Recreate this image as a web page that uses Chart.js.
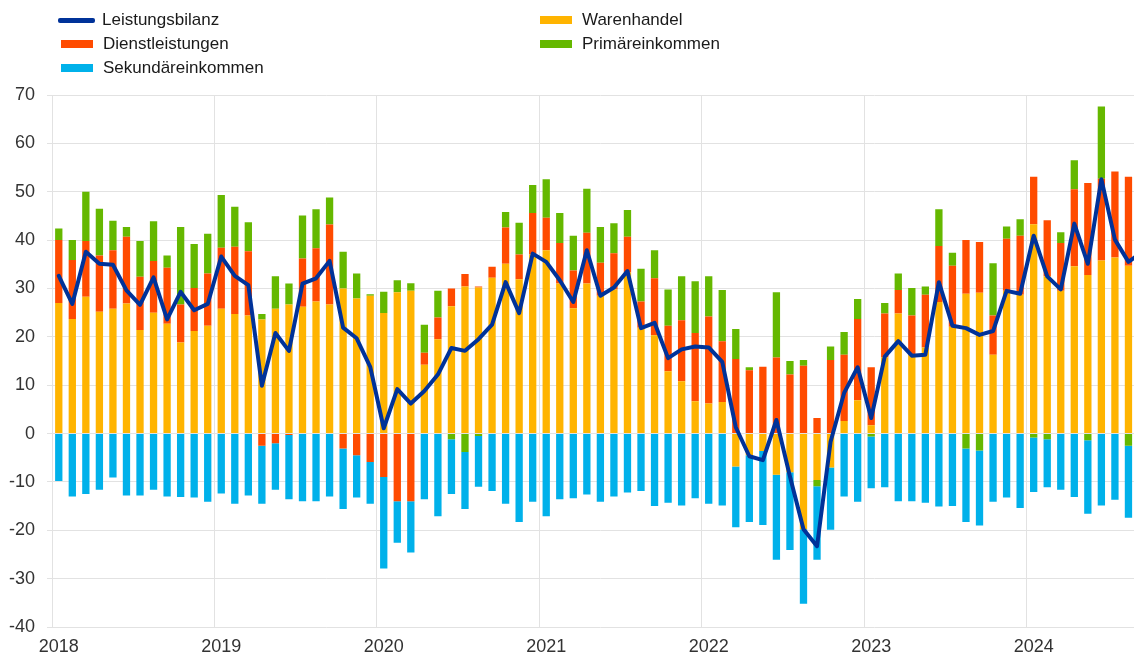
<!DOCTYPE html>
<html>
<head>
<meta charset="utf-8">
<script src="https://cdn.jsdelivr.net/npm/chart.js@4.4.1/dist/chart.umd.min.js"></script>
<style>
  html, body { margin:0; padding:0; background:#fff; overflow:hidden; width:1134px; height:657px; }
  #wrap { position:absolute; left:0; top:0; width:1151px; height:657px; }
  #legend { position:absolute; left:0; top:0; width:1134px; height:85px;
            font-family:"Liberation Sans", Arial, sans-serif; font-size:17px; color:#1a1a1a; }
  .item { position:absolute; white-space:nowrap; height:20px; line-height:20px; }
  .sw { position:absolute; }
</style>
</head>
<body>
<div id="wrap"><canvas id="c" width="1151" height="657"></canvas></div>
<div id="legend"></div>
<script>
// ---- data (EUR bn, monthly) ----
const categories = [
 '2018-01','2018-02','2018-03','2018-04','2018-05','2018-06','2018-07','2018-08','2018-09','2018-10','2018-11','2018-12',
 '2019-01','2019-02','2019-03','2019-04','2019-05','2019-06','2019-07','2019-08','2019-09','2019-10','2019-11','2019-12',
 '2020-01','2020-02','2020-03','2020-04','2020-05','2020-06','2020-07','2020-08','2020-09','2020-10','2020-11','2020-12',
 '2021-01','2021-02','2021-03','2021-04','2021-05','2021-06','2021-07','2021-08','2021-09','2021-10','2021-11','2021-12',
 '2022-01','2022-02','2022-03','2022-04','2022-05','2022-06','2022-07','2022-08','2022-09','2022-10','2022-11','2022-12',
 '2023-01','2023-02','2023-03','2023-04','2023-05','2023-06','2023-07','2023-08','2023-09','2023-10','2023-11','2023-12',
 '2024-01','2024-02','2024-03','2024-04','2024-05','2024-06','2024-07','2024-08','2024-09'
];
const warenhandel = [
 27.0,23.7,28.3,25.2,25.8,26.9,21.4,25.0,22.7,18.8,21.2,22.3,
 25.8,24.7,24.4,23.6,25.8,26.7,26.2,27.3,26.7,30.0,27.9,28.5,
 24.9,29.2,29.5,14.2,19.5,26.3,30.4,30.2,32.2,35.1,31.9,37.0,
 37.9,31.0,25.9,31.0,28.5,29.8,33.3,21.9,20.3,12.9,10.8,6.7,
 6.2,6.5,-6.8,-4.5,-3.6,-8.5,-8.0,-19.8,-9.6,-7.0,2.6,6.9,
 1.7,15.8,24.8,16.3,17.8,27.2,22.1,28.9,29.1,16.3,29.5,28.7,
 43.3,32.5,29.5,34.6,32.8,35.8,36.4,34.7,null
];
const dienstleistungen = [
 13.0,12.2,11.5,11.6,12.1,13.8,11.0,10.7,11.6,7.9,8.9,10.8,
 12.6,13.9,13.3,-2.5,-2.0,-0.3,10.0,11.0,16.5,-3.1,-4.5,-5.9,
 -9.0,-14.0,-14.0,2.5,4.5,3.7,2.6,0.2,2.3,7.5,5.1,8.6,
 6.7,8.4,7.8,10.5,6.8,7.5,7.4,5.4,11.8,9.4,12.6,14.1,
 18.0,12.6,15.4,13.1,13.8,15.7,12.2,14.0,3.2,15.2,13.7,16.8,
 12.0,9.0,4.9,8.1,10.9,11.6,12.6,11.1,10.5,8.1,10.8,12.2,
 9.8,11.6,9.9,15.9,19.0,16.9,17.8,18.4,null
];
const primaereinkommen = [
 2.4,4.1,10.2,9.7,6.1,2.0,7.4,8.2,2.5,16.0,9.1,8.2,
 10.9,8.3,6.0,1.1,6.7,4.3,8.9,8.1,5.6,7.6,5.2,0.3,
 4.4,2.5,1.6,5.8,5.5,-1.2,-3.8,-0.5,0,3.2,6.6,5.8,
 8.0,6.2,7.2,9.1,7.4,6.2,5.5,6.8,5.8,7.5,9.1,10.7,
 8.3,10.6,6.2,0.6,0,13.5,2.8,1.2,-1.3,2.8,4.7,4.1,
 -0.6,2.2,3.4,5.7,1.7,7.6,2.7,-3.1,-3.5,10.8,2.5,3.4,
 -0.8,-1.2,2.2,6.0,-1.4,14.9,0,-2.5,null
];
const sekundaereinkommen = [
 -9.8,-13.0,-12.5,-11.6,-9.1,-12.8,-12.8,-11.6,-13.0,-13.1,-13.2,-14.1,
 -12.4,-14.5,-12.8,-12.0,-9.6,-13.3,-14.0,-14.0,-13.0,-12.5,-8.7,-8.6,
 -18.9,-8.6,-10.6,-13.6,-17.1,-11.3,-11.8,-10.5,-11.9,-14.5,-18.3,-14.1,
 -17.1,-13.6,-13.4,-12.6,-14.1,-13.0,-12.2,-11.9,-15.0,-14.3,-14.9,-13.4,
 -14.5,-14.9,-12.6,-13.8,-15.3,-17.6,-16.1,-15.4,-15.2,-12.9,-13.0,-14.1,
 -10.7,-11.1,-14.0,-14.0,-14.3,-15.1,-15.0,-15.2,-15.5,-14.1,-13.2,-15.4,
 -11.3,-9.9,-11.6,-13.1,-15.2,-14.9,-13.7,-14.9,null
];
const leistungsbilanz = [
 32.6,26.8,37.6,35.1,34.9,29.6,26.6,32.3,23.6,29.3,25.5,26.8,
 36.6,32.6,30.7,9.9,20.8,17.1,31.0,32.1,35.7,21.9,19.7,13.8,
 1.1,9.2,6.2,8.8,12.2,17.7,17.1,19.5,22.5,31.3,24.9,37.2,
 35.5,31.7,27.2,37.9,28.5,30.2,33.6,21.8,22.9,15.6,17.4,18.0,
 17.8,14.8,1.3,-4.7,-5.5,2.8,-8.9,-19.8,-23.3,-1.7,8.4,13.7,
 3.2,15.9,19.1,16.1,16.3,31.3,22.3,21.8,20.4,21.2,29.5,28.9,
 40.9,32.5,29.8,43.4,35.1,52.6,40.1,35.5,37.5
];
const yTicks = [-40,-30,-20,-10,0,10,20,30,40,50,60,70];

// ---- styling ----
const COL = { line:'#003299', waren:'#FFB400', dienst:'#FF4B00', primaer:'#65B800', sekundaer:'#00B1EA' };
const GRID = '#e2e2e2';
const FONT = '"Liberation Sans", Arial, sans-serif';

const isJan = i => typeof categories[i] === 'string' && categories[i].endsWith('-01');

const barCommon = { type:'bar', stack:'bars', order:1, barPercentage:0.54, categoryPercentage:1, borderWidth:0 };

new Chart(document.getElementById('c'), {
  data: {
    labels: categories,
    datasets: [
      { type:'line', label:'Leistungsbilanz', data:leistungsbilanz, stack:'line', order:0,
        borderColor:COL.line, backgroundColor:COL.line, borderWidth:4, pointRadius:0, tension:0,
        borderJoinStyle:'round', borderCapStyle:'round' },
      Object.assign({ label:'Warenhandel', data:warenhandel, backgroundColor:COL.waren }, barCommon),
      Object.assign({ label:'Dienstleistungen', data:dienstleistungen, backgroundColor:COL.dienst }, barCommon),
      Object.assign({ label:'Primäreinkommen', data:primaereinkommen, backgroundColor:COL.primaer }, barCommon),
      Object.assign({ label:'Sekundäreinkommen', data:sekundaereinkommen, backgroundColor:COL.sekundaer }, barCommon)
    ]
  },
  options: {
    responsive:false, animation:false, devicePixelRatio:1,
    layout:{ padding:{ top:95, right:0, bottom:0, left:0 } },
    plugins:{ legend:{ display:false }, tooltip:{ enabled:false } },
    scales:{
      x:{
        stacked:true, offset:true,
        afterFit: s => { s.height = 30; },
        grid:{ offset:true, drawTicks:false,
               color: ctx => (ctx.type === 'tick' && isJan(ctx.index)) ? GRID : 'rgba(0,0,0,0)', lineWidth:1 },
        border:{ display:false },
        ticks:{ autoSkip:false, maxRotation:0, minRotation:0, padding:9,
                font:{ family:FONT, size:18 }, color:'#333',
                callback:(v, i) => isJan(i) ? categories[i].slice(0,4) : '' }
      },
      y:{
        stacked:true, min:-40, max:70,
        afterBuildTicks: s => { s.ticks = yTicks.map(v => ({ value:v })); },
        afterFit: s => { s.width = 52; },
        grid:{ color:GRID, drawTicks:true, tickLength:5, lineWidth:1 },
        border:{ display:false },
        ticks:{ padding:12, font:{ family:FONT, size:18 }, color:'#333' }
      }
    }
  }
});

// ---- HTML legend in two columns ----
const legendItems = [
  { label:'Leistungsbilanz',   color:COL.line,      kind:'line', x:58,  y:20 },
  { label:'Dienstleistungen',  color:COL.dienst,    kind:'box',  x:58,  y:44 },
  { label:'Sekundäreinkommen', color:COL.sekundaer, kind:'box',  x:58,  y:68 },
  { label:'Warenhandel',       color:COL.waren,     kind:'box',  x:537, y:20 },
  { label:'Primäreinkommen',   color:COL.primaer,   kind:'box',  x:537, y:44 }
];
const leg = document.getElementById('legend');
legendItems.forEach(it => {
  const d = document.createElement('div');
  d.className = 'item';
  d.style.left = it.x + 'px';
  d.style.top = (it.y - 10) + 'px';
  const sw = document.createElement('div');
  sw.className = 'sw';
  sw.style.background = it.color;
  if (it.kind === 'line') {
    sw.style.left = '0px'; sw.style.width = '37px';
    sw.style.top = '8px'; sw.style.height = '4.5px'; sw.style.borderRadius = '2px';
  } else {
    sw.style.left = '3px'; sw.style.width = '32px';
    sw.style.top = '6px'; sw.style.height = '8px';
  }
  const t = document.createElement('span');
  t.textContent = it.label;
  t.style.position = 'absolute';
  t.style.left = (it.kind === 'line' ? 44 : 45) + 'px';
  d.appendChild(sw); d.appendChild(t);
  leg.appendChild(d);
});
</script>
</body>
</html>
